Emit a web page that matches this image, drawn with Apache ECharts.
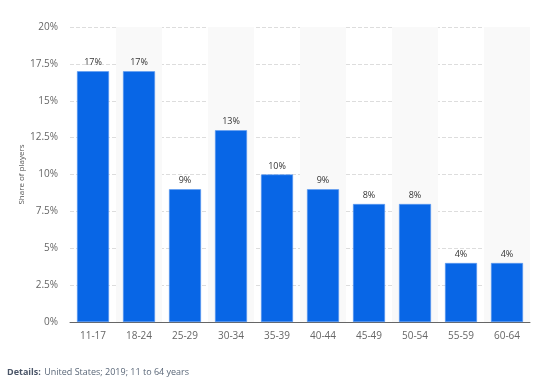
<!DOCTYPE html>
<html>
<head>
<meta charset="utf-8">
<script src="https://cdn.jsdelivr.net/npm/echarts@6/dist/echarts.min.js"></script>
<style>
  html, body { margin: 0; padding: 0; background: #fff; }
  #chart { width: 536px; height: 378px; }
</style>
</head>
<body>
<div id="chart"></div>
<script>
const ageGroups = ['11-17', '18-24', '25-29', '30-34', '35-39', '40-44', '45-49', '50-54', '55-59', '60-64'];
const shares = [17, 17, 9, 13, 10, 9, 8, 8, 4, 4];
const yTicks = [0, 2.5, 5, 7.5, 10, 12.5, 15, 17.5, 20];

const chart = echarts.init(document.getElementById('chart'));
chart.setOption({
  animation: false,
  textStyle: { fontFamily: 'Open Sans' },
  grid: { left: 70, right: 6, top: 27, bottom: 56 },
  xAxis: {
    type: 'category',
    data: ageGroups,
    axisLine: { lineStyle: { color: '#666', width: 1 } },
    axisTick: { show: false },
    axisLabel: { color: '#666', fontSize: 10, margin: 9 },
    splitArea: { show: true, areaStyle: { color: ['rgba(255,255,255,0)', '#f9f9f9'] } }
  },
  yAxis: {
    type: 'value',
    min: yTicks[0],
    max: yTicks[yTicks.length - 1],
    interval: 2.5,
    name: 'Share of players',
    nameLocation: 'middle',
    nameGap: 44,
    nameMoveOverlap: false,
    nameTextStyle: { color: '#555', fontSize: 8 },
    axisLine: { show: false },
    axisTick: { show: false },
    axisLabel: { color: '#666', fontSize: 10, margin: 12, formatter: (v) => v + '%' },
    splitLine: { lineStyle: { color: '#ddd', type: 'dashed', width: 1 } }
  },
  series: [{
    type: 'bar',
    data: shares,
    barWidth: 32,
    itemStyle: { color: '#0866e6', borderColor: '#5e9bf0', borderWidth: 0.6 },
    label: {
      show: true,
      position: 'top',
      distance: 4,
      color: '#333',
      fontSize: 9,
      formatter: (p) => p.value + '%'
    }
  }],
  graphic: [{
    type: 'text',
    left: 7,
    top: 366,
    style: {
      rich: {
        b: { fontWeight: 'bold', fill: '#4a5568', fontSize: 9, fontFamily: 'Open Sans' },
        n: { fill: '#5a6778', fontSize: 9, fontFamily: 'Open Sans' }
      },
      text: '{b|Details:} {n|United States; 2019; 11 to 64 years}'
    }
  }]
});
</script>
</body>
</html>
